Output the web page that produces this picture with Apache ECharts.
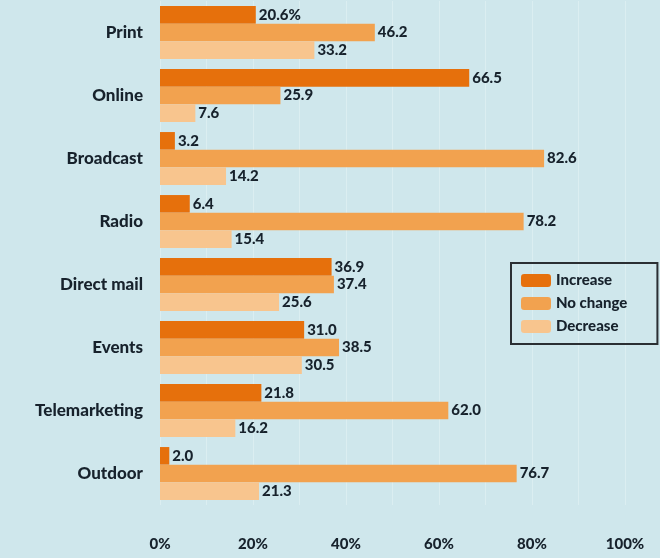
<!DOCTYPE html>
<html>
<head>
    <meta charset="utf-8">
    <title>Marketing spend change by channel</title>
    <script src="https://cdn.jsdelivr.net/npm/echarts@6/dist/echarts.min.js"></script>
    <style>
        body, html { margin: 0; padding: 0; width: 100%; height: 100%; overflow: hidden; background: #cfe7ec; }
        #main { width: 660px; height: 558px; }
    </style>
</head>
<body>
    <div id="main"></div>
    <script type="text/javascript">
        // data
        var channels = ['Print', 'Online', 'Broadcast', 'Radio', 'Direct mail', 'Events', 'Telemarketing', 'Outdoor'];
        var increase = [20.6, 66.5, 3.2, 6.4, 36.9, 31.0, 21.8, 2.0];
        var noChange = [46.2, 25.9, 82.6, 78.2, 37.4, 38.5, 62.0, 76.7];
        var decrease = [33.2, 7.6, 14.2, 15.4, 25.6, 30.5, 16.2, 21.3];
        var seriesNames = ['Increase', 'No change', 'Decrease'];
        var colors = ['#e6700c', '#f2a24f', '#f8c58e'];

        var textColor = '#17222c';
        var fontFam = 'Lato, "Open Sans", sans-serif';

        var chart = echarts.init(document.getElementById('main'));

        function makeSeries(name, values, color, idx) {
            return {
                name: name,
                type: 'bar',
                data: values,
                barGap: 0,
                barCategoryGap: '16%',
                itemStyle: { color: color },
                label: {
                    show: true,
                    position: 'right',
                    distance: 3,
                    color: textColor,
                    fontFamily: fontFam,
                    fontWeight: 900,
                    fontSize: 15,
                    formatter: function (p) {
                        var s = p.value.toFixed(1);
                        // the very first label carries the unit
                        if (idx === 0 && p.dataIndex === 0) s += '%';
                        return s;
                    }
                },
                emphasis: { disabled: true },
                animation: false
            };
        }

        chart.setOption({
            backgroundColor: '#cfe7ec',
            animation: false,
            color: colors,
            legend: {
                orient: 'vertical',
                left: 511,
                top: 263,
                data: seriesNames,
                itemWidth: 30,
                itemHeight: 13,
                itemGap: 8,
                padding: [10, 30, 10, 10],
                borderColor: '#2a2f33',
                borderWidth: 2,
                textStyle: { color: textColor, fontFamily: fontFam, fontWeight: 900, fontSize: 15 }
            },
            grid: { left: 160, right: 35, top: 1, bottom: 53, containLabel: false },
            xAxis: {
                type: 'value',
                min: 0,
                max: 100,
                interval: 20,
                axisLine: { show: false },
                axisTick: { show: false },
                axisLabel: {
                    margin: 32,
                    color: textColor,
                    fontFamily: fontFam,
                    fontWeight: 900,
                    fontSize: 15,
                    formatter: '{value}%'
                },
                splitLine: { show: true, lineStyle: { color: '#dbeef1', width: 1 } },
                minorTick: { show: false, splitNumber: 2 },
                minorSplitLine: { show: true, lineStyle: { color: '#dbeef1', width: 1 } }
            },
            yAxis: {
                type: 'category',
                data: channels,
                inverse: true,
                axisLine: { show: false },
                axisTick: { show: false },
                axisLabel: {
                    margin: 17,
                    color: textColor,
                    fontFamily: fontFam,
                    fontWeight: 900,
                    fontSize: 17
                }
            },
            series: [
                makeSeries(seriesNames[0], increase, colors[0], 0),
                makeSeries(seriesNames[1], noChange, colors[1], 1),
                makeSeries(seriesNames[2], decrease, colors[2], 2)
            ]
        });
    </script>
</body>
</html>
